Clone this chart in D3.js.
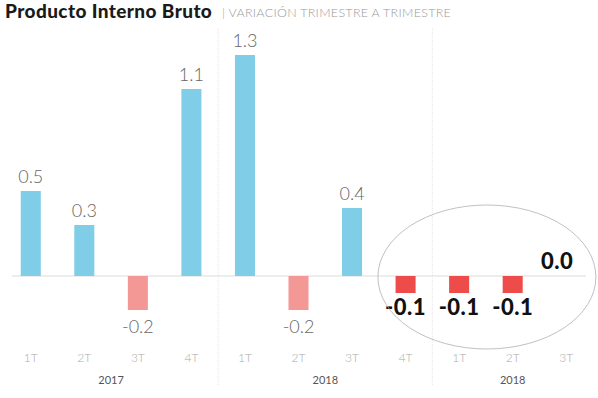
<!DOCTYPE html>
<meta charset="utf-8">
<script src="https://d3js.org/d3.v7.min.js"></script>
<style>
  body { margin: 0; background: #fff; }
  text { font-family: Lato, "Open Sans", sans-serif; }
</style>
<div id="chart"></div>
<script>
// data
var quarters = ["1T", "2T", "3T", "4T", "1T", "2T", "3T", "4T", "1T", "2T", "3T"];
var values = [0.5, 0.3, -0.2, 1.1, 1.3, -0.2, 0.4, -0.1, -0.1, -0.1, 0.0];
var years = ["2017", "2018", "2018"];
var yearStart = [0, 4, 8];
var yearEnd = [3, 7, 10];
var highlighted = [7, 8, 9, 10];

var width = 598, height = 398;

var svg = d3.select("#chart").append("svg")
    .attr("width", width)
    .attr("height", height);

function fmt(d) { return d3.format(".1f")(d).replace("\u2212", "-"); }

// title
svg.append("text")
    .attr("x", 5).attr("y", 18)
    .style("font-size", "19px")
    .style("font-weight", 900)
    .style("letter-spacing", "0.4px")
    .attr("fill", "#1a1a1a")
    .text("Producto Interno Bruto");
svg.append("text")
    .attr("x", 222).attr("y", 17)
    .style("font-size", "12.5px")
    .style("font-weight", 300)
    .style("letter-spacing", "0.3px")
    .attr("fill", "#999")
    .text("| VARIACIÓN TRIMESTRE A TRIMESTRE");

// scales
var x = d3.scaleBand()
    .domain(d3.range(values.length))
    .range([4, 593])
    .paddingInner(0.626)
    .paddingOuter(0.313);

var y = d3.scaleLinear()
    .domain([-0.2, 1.3])
    .range([310, 55]);

// year dividers
[3, 7].forEach(function(i) {
  var xx = x(i) + x.bandwidth() + (x.step() - x.bandwidth()) / 2;
  svg.append("line")
      .attr("x1", xx).attr("x2", xx)
      .attr("y1", 28).attr("y2", 385)
      .attr("stroke", "#e6e6e6")
      .attr("stroke-dasharray", "1,1");
});

// baseline
svg.append("line")
    .attr("x1", 12).attr("x2", 586)
    .attr("y1", y(0)).attr("y2", y(0))
    .attr("stroke", "#dcdcdc")
    .attr("stroke-width", 1.2);

// bars
svg.selectAll("rect.bar")
  .data(values)
  .enter()
  .append("rect")
    .attr("class", "bar")
    .attr("x", function(d, i) { return x(i); })
    .attr("y", function(d) { return y(Math.max(0, d)); })
    .attr("width", x.bandwidth())
    .attr("height", function(d) { return Math.abs(y(d) - y(0)); })
    .attr("fill", function(d, i) {
      if (d >= 0) return "#7fcde6";
      return highlighted.indexOf(i) >= 0 ? "#ee4b4b" : "#f49896";
    });

// value labels
svg.selectAll("text.val")
  .data(values)
  .enter()
  .append("text")
    .attr("class", "val")
    .attr("text-anchor", "middle")
    .attr("x", function(d, i) {
      return x(i) + x.bandwidth() / 2 - (i === 10 ? 9 : 0);
    })
    .attr("y", function(d, i) {
      if (highlighted.indexOf(i) >= 0) return d < 0 ? y(d) + 22 : y(0) - 7;
      return d >= 0 ? y(d) - 8 : y(d) + 23;
    })
    .style("font-size", function(d, i) { return highlighted.indexOf(i) >= 0 ? "22px" : "18px"; })
    .style("font-weight", function(d, i) { return highlighted.indexOf(i) >= 0 ? 900 : 300; })
    .style("letter-spacing", function(d, i) { return highlighted.indexOf(i) >= 0 ? "0.5px" : "0px"; })
    .attr("fill", function(d, i) { return highlighted.indexOf(i) >= 0 ? "#111" : "#666"; })
    .text(fmt);

// highlight ellipse
var cx = (x(7) + x(10) + x.bandwidth()) / 2;
svg.append("ellipse")
    .attr("cx", cx + 1).attr("cy", y(0) + 1)
    .attr("rx", 109).attr("ry", 72)
    .attr("fill", "none")
    .attr("stroke", "#b0b0b0")
    .attr("stroke-width", 0.8);

// quarter ticks
svg.append("g")
    .attr("transform", "translate(0,350)")
    .call(d3.axisBottom(x).tickSize(0).tickFormat(function(i) { return quarters[i]; }))
    .call(function(g) { g.select(".domain").remove(); })
    .selectAll("text")
      .style("font-family", "Lato, sans-serif")
      .style("font-size", "12px")
      .style("font-weight", 300)
      .attr("fill", "#aaa");

// year labels
svg.selectAll("text.year")
  .data(years)
  .enter()
  .append("text")
    .attr("class", "year")
    .attr("text-anchor", "middle")
    .attr("x", function(d, i) {
      return (x(yearStart[i]) + x(yearEnd[i]) + x.bandwidth()) / 2;
    })
    .attr("y", 384)
    .style("font-size", "11px")
    .attr("fill", "#555")
    .text(function(d) { return d; });
</script>
